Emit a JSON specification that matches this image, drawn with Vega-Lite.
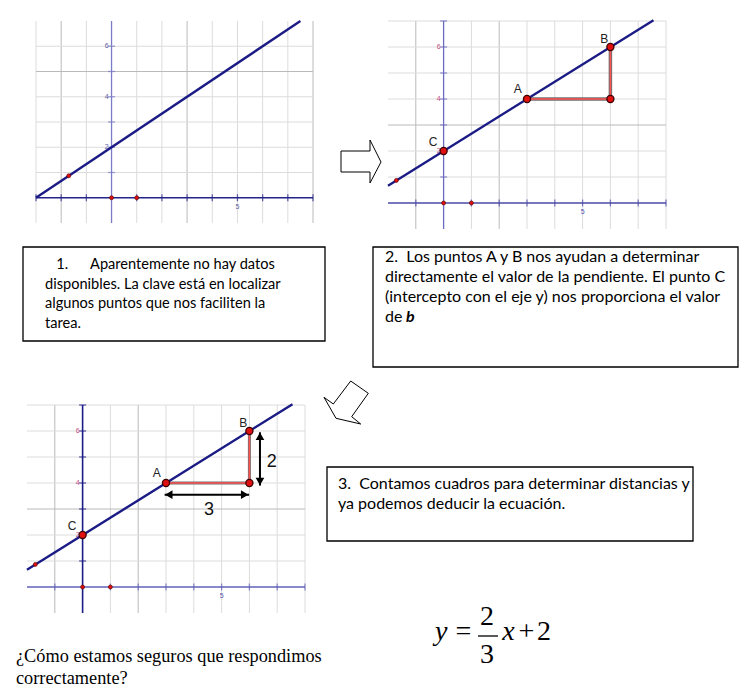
{
"$schema": "https://vega.github.io/schema/vega-lite/v6.json",
"width": 755, "height": 694, "autosize": {"type": "none"}, "padding": 0,
"background": "white",
"config": {"view": {"stroke": null}, "axis": {"disable": true}, "legend": {"disable": true}},
"data": {"values": [{}]},
"datasets": {
 "g1v": [{"v":-3,"kind":"minor"},{"v":-2,"kind":"major"},{"v":-1,"kind":"minor"},{"v":1,"kind":"minor"},{"v":2,"kind":"minor"},{"v":3,"kind":"major"},{"v":4,"kind":"minor"},{"v":5,"kind":"minor"},{"v":6,"kind":"minor"},{"v":7,"kind":"minor"},{"v":8,"kind":"major"}],
 "g1h": [{"v":1,"kind":"minor"},{"v":2,"kind":"minor"},{"v":3,"kind":"minor"},{"v":4,"kind":"minor"},{"v":5,"kind":"major"},{"v":6,"kind":"minor"}],
 "g23v": [{"v":-1,"kind":"major"},{"v":1,"kind":"minor"},{"v":2,"kind":"major"},{"v":3,"kind":"minor"},{"v":4,"kind":"minor"},{"v":5,"kind":"minor"},{"v":6,"kind":"minor"},{"v":7,"kind":"minor"},{"v":8,"kind":"minor"}],
 "g23h": [{"v":1,"kind":"minor"},{"v":2,"kind":"minor"},{"v":3,"kind":"major"},{"v":4,"kind":"minor"},{"v":5,"kind":"minor"},{"v":6,"kind":"minor"},{"v":7,"kind":"minor"}],
 "ylab": [{"v":2,"t":"2"},{"v":4,"t":"4"},{"v":6,"t":"6"}],
 "xlab": [{"v":5,"t":"5"}],
 "line1": [{"x":-3,"y":0},{"x":7.5,"y":7}],
 "line23": [{"x":-2,"y":0.667},{"x":7.55,"y":7.03}],
 "small": [{"x":-1.7,"y":0.87},{"x":0,"y":0},{"x":1,"y":0}],
 "big": [{"x":3,"y":4,"p":"A"},{"x":6,"y":6,"p":"B"},{"x":0,"y":2,"p":"C"},{"x":6,"y":4,"p":"D"}],
 "labels": [{"x":2.67,"y":4.38,"t":"A"},{"x":5.78,"y":6.32,"t":"B"},{"x":-0.38,"y":2.35,"t":"C"}],
 "tri": [{"i":0,"x":3,"y":4},{"i":1,"x":6,"y":4},{"i":2,"x":6,"y":6}],
 "shafts": [{"x":6.38,"y":3.9,"x2":6.38,"y2":5.95},{"x":2.95,"y":3.55,"x2":5.99,"y2":3.55}],
 "heads": [{"x":6.38,"y":5.8,"dir":"up"},{"x":6.38,"y":4.06,"dir":"down"},{"x":3.1,"y":3.55,"dir":"left"},{"x":5.83,"y":3.55,"dir":"right"}],
 "measure": [{"x":6.8,"y":4.82,"t":"2"},{"x":4.55,"y":2.97,"t":"3"}],
 "box1": [{"line":1,"t":"\u200b\u00a0\u00a0\u00a01.\u00a0\u00a0\u00a0\u00a0\u00a0\u00a0Aparentemente no hay datos"},{"line":2,"t":"disponibles. La clave está en localizar"},{"line":3,"t":"algunos puntos que nos faciliten la"},{"line":4,"t":"tarea."}],
 "box2": [{"line":1,"t":"2.\u00a0 Los puntos A y B nos ayudan a determinar"},{"line":2,"t":"directamente el valor de la pendiente. El punto C"},{"line":3,"t":"(intercepto con el eje y) nos proporciona el valor"},{"line":4,"t":"de"}],
 "box3": [{"line":1,"t":"3.\u00a0 Contamos cuadros para determinar distancias y"},{"line":2,"t":"ya podemos deducir la ecuación."}],
 "arrow1": [{"i":0,"x":0,"y":11},{"i":1,"x":29,"y":11},{"i":2,"x":29,"y":0},{"i":3,"x":40,"y":22},{"i":4,"x":29,"y":43},{"i":5,"x":29,"y":32},{"i":6,"x":0,"y":32},{"i":7,"x":0,"y":11}],
 "arrow2": [{"i":0,"x":30.7,"y":3},{"i":1,"x":48.3,"y":15.3},{"i":2,"x":31.7,"y":38.7},{"i":3,"x":40.7,"y":46},{"i":4,"x":16,"y":40.3},{"i":5,"x":4,"y":19.3},{"i":6,"x":13.3,"y":26},{"i":7,"x":30.7,"y":3}],
 "question": [{"line":1,"t":"¿Cómo estamos seguros que respondimos"},{"line":2,"t":"correctamente?"}]
},
"resolve": {"scale": {"x": "independent", "y": "independent"}},
"layer": [
 {"layer": [
  {"data":{"name":"g1v"},"mark":{"type":"rule","strokeWidth":1},
   "encoding":{"x":{"field":"v","type":"quantitative","scale":{"domain":[-3,8],"range":[36,313],"nice":false,"zero":false}},
    "y":{"datum":-1,"type":"quantitative","scale":{"domain":[-1,7],"range":[223,21],"nice":false,"zero":false}},"y2":{"datum":7},
    "stroke":{"condition":{"test":"datum.kind==='major'","value":"#bababa"},"value":"#dcdcdc"}}},
  {"data":{"name":"g1h"},"mark":{"type":"rule","strokeWidth":1},
   "encoding":{"y":{"field":"v","type":"quantitative"},"x":{"datum":-3,"type":"quantitative"},"x2":{"datum":8},
    "stroke":{"condition":{"test":"datum.kind==='major'","value":"#bababa"},"value":"#dcdcdc"}}},
  {"mark":{"type":"rule","color":"#23238a","strokeWidth":1.6},"encoding":{"y":{"datum":0,"type":"quantitative"},"x":{"datum":-3,"type":"quantitative"},"x2":{"datum":8}}},
  {"mark":{"type":"rule","color":"#7b7bc8","strokeWidth":1.3},"encoding":{"x":{"datum":0,"type":"quantitative"},"y":{"datum":-1,"type":"quantitative"},"y2":{"datum":7}}},
  {"data":{"name":"g1v"},"mark":{"type":"tick","orient":"vertical","size":7,"thickness":1.3,"color":"#23238a"},"encoding":{"x":{"field":"v","type":"quantitative"},"y":{"datum":0,"type":"quantitative"}}},
  {"data":{"name":"g1h"},"mark":{"type":"tick","orient":"horizontal","size":7,"thickness":1.3,"color":"#7b7bc8"},"encoding":{"y":{"field":"v","type":"quantitative"},"x":{"datum":0,"type":"quantitative"}}},
  {"data":{"name":"ylab"},"mark":{"type":"text","align":"right","baseline":"middle","fontSize":7,"font":"Liberation Sans","color":"#6060a0","dx":-3},"encoding":{"x":{"datum":0,"type":"quantitative"},"y":{"field":"v","type":"quantitative"},"text":{"field":"t"}}},
  {"data":{"name":"xlab"},"mark":{"type":"text","align":"center","baseline":"top","fontSize":7,"font":"Liberation Sans","color":"#6060a0","dy":5},"encoding":{"x":{"field":"v","type":"quantitative"},"y":{"datum":0,"type":"quantitative"},"text":{"field":"t"}}},
  {"data":{"name":"line1"},"mark":{"type":"line","color":"#1b1b85","strokeWidth":2.4},"encoding":{"x":{"field":"x","type":"quantitative"},"y":{"field":"y","type":"quantitative"}}},
  {"data":{"name":"small"},"mark":{"type":"point","filled":true,"size":16,"fill":"#e01010","stroke":"#500000","strokeWidth":0.6,"opacity":1},"encoding":{"x":{"field":"x","type":"quantitative"},"y":{"field":"y","type":"quantitative"}}}
 ]},
 {"layer": [
  {"data":{"name":"g23v"},"mark":{"type":"rule","strokeWidth":1},
   "encoding":{"x":{"field":"v","type":"quantitative","scale":{"domain":[-2,8],"range":[388,666],"nice":false,"zero":false}},
    "y":{"datum":-1,"type":"quantitative","scale":{"domain":[-1,7],"range":[229,21],"nice":false,"zero":false}},"y2":{"datum":7},
    "stroke":{"condition":{"test":"datum.kind==='major'","value":"#bababa"},"value":"#dcdcdc"}}},
  {"data":{"name":"g23h"},"mark":{"type":"rule","strokeWidth":1},
   "encoding":{"y":{"field":"v","type":"quantitative"},"x":{"datum":-2,"type":"quantitative"},"x2":{"datum":8},
    "stroke":{"condition":{"test":"datum.kind==='major'","value":"#bababa"},"value":"#dcdcdc"}}},
  {"mark":{"type":"rule","color":"#4a4aa8","strokeWidth":1.5},"encoding":{"y":{"datum":0,"type":"quantitative"},"x":{"datum":-2,"type":"quantitative"},"x2":{"datum":8}}},
  {"mark":{"type":"rule","color":"#6b6bc0","strokeWidth":1.3},"encoding":{"x":{"datum":0,"type":"quantitative"},"y":{"datum":-1,"type":"quantitative"},"y2":{"datum":7}}},
  {"data":{"name":"g23v"},"mark":{"type":"tick","orient":"vertical","size":7,"thickness":1.3,"color":"#4a4aa8"},"encoding":{"x":{"field":"v","type":"quantitative"},"y":{"datum":0,"type":"quantitative"}}},
  {"data":{"name":"g23h"},"mark":{"type":"tick","orient":"horizontal","size":7,"thickness":1.3,"color":"#6b6bc0"},"encoding":{"y":{"field":"v","type":"quantitative"},"x":{"datum":0,"type":"quantitative"}}},
  {"data":{"name":"ylab"},"mark":{"type":"text","align":"right","baseline":"middle","fontSize":7,"font":"Liberation Sans","color":"#c05080","dx":-3},"encoding":{"x":{"datum":0,"type":"quantitative"},"y":{"field":"v","type":"quantitative"},"text":{"field":"t"}}},
  {"data":{"name":"xlab"},"mark":{"type":"text","align":"center","baseline":"top","fontSize":7,"font":"Liberation Sans","color":"#5050b0","dy":5},"encoding":{"x":{"field":"v","type":"quantitative"},"y":{"datum":0,"type":"quantitative"},"text":{"field":"t"}}},
  {"data":{"name":"tri"},"mark":{"type":"line","color":"#707070","strokeWidth":3.5},"encoding":{"x":{"field":"x","type":"quantitative"},"y":{"field":"y","type":"quantitative"},"order":{"field":"i"}}},
  {"data":{"name":"tri"},"mark":{"type":"line","color":"#ff5050","strokeWidth":1.5},"encoding":{"x":{"field":"x","type":"quantitative"},"y":{"field":"y","type":"quantitative"},"order":{"field":"i"}}},
  {"data":{"name":"line23"},"mark":{"type":"line","color":"#1b1b85","strokeWidth":2.4},"encoding":{"x":{"field":"x","type":"quantitative"},"y":{"field":"y","type":"quantitative"}}},
  {"data":{"name":"small"},"mark":{"type":"point","filled":true,"size":16,"fill":"#e01010","stroke":"#500000","strokeWidth":0.6,"opacity":1},"encoding":{"x":{"field":"x","type":"quantitative"},"y":{"field":"y","type":"quantitative"}}},
  {"data":{"name":"big"},"mark":{"type":"point","filled":true,"size":50,"fill":"#e01010","stroke":"#3a0000","strokeWidth":1.3,"opacity":1},"encoding":{"x":{"field":"x","type":"quantitative"},"y":{"field":"y","type":"quantitative"}}},
  {"data":{"name":"labels"},"mark":{"type":"text","align":"center","baseline":"middle","fontSize":12,"font":"Liberation Sans","color":"#222222"},"encoding":{"x":{"field":"x","type":"quantitative"},"y":{"field":"y","type":"quantitative"},"text":{"field":"t"}}}
 ]},
 {"layer": [
  {"data":{"name":"g23v"},"mark":{"type":"rule","strokeWidth":1},
   "encoding":{"x":{"field":"v","type":"quantitative","scale":{"domain":[-2,8],"range":[27,305],"nice":false,"zero":false}},
    "y":{"datum":-1,"type":"quantitative","scale":{"domain":[-1,7],"range":[613,405],"nice":false,"zero":false}},"y2":{"datum":7},
    "stroke":{"condition":{"test":"datum.kind==='major'","value":"#bababa"},"value":"#dcdcdc"}}},
  {"data":{"name":"g23h"},"mark":{"type":"rule","strokeWidth":1},
   "encoding":{"y":{"field":"v","type":"quantitative"},"x":{"datum":-2,"type":"quantitative"},"x2":{"datum":8},
    "stroke":{"condition":{"test":"datum.kind==='major'","value":"#bababa"},"value":"#dcdcdc"}}},
  {"mark":{"type":"rule","color":"#6060b8","strokeWidth":1.5},"encoding":{"y":{"datum":0,"type":"quantitative"},"x":{"datum":-2,"type":"quantitative"},"x2":{"datum":8}}},
  {"mark":{"type":"rule","color":"#1b1b8a","strokeWidth":1.6},"encoding":{"x":{"datum":0,"type":"quantitative"},"y":{"datum":-1,"type":"quantitative"},"y2":{"datum":7}}},
  {"data":{"name":"g23v"},"mark":{"type":"tick","orient":"vertical","size":7,"thickness":1.3,"color":"#6060b8"},"encoding":{"x":{"field":"v","type":"quantitative"},"y":{"datum":0,"type":"quantitative"}}},
  {"data":{"name":"g23h"},"mark":{"type":"tick","orient":"horizontal","size":7,"thickness":1.3,"color":"#1b1b8a"},"encoding":{"y":{"field":"v","type":"quantitative"},"x":{"datum":0,"type":"quantitative"}}},
  {"data":{"name":"ylab"},"mark":{"type":"text","align":"right","baseline":"middle","fontSize":7,"font":"Liberation Sans","color":"#c05080","dx":-3},"encoding":{"x":{"datum":0,"type":"quantitative"},"y":{"field":"v","type":"quantitative"},"text":{"field":"t"}}},
  {"data":{"name":"xlab"},"mark":{"type":"text","align":"center","baseline":"top","fontSize":7,"font":"Liberation Sans","color":"#5050b0","dy":5},"encoding":{"x":{"field":"v","type":"quantitative"},"y":{"datum":0,"type":"quantitative"},"text":{"field":"t"}}},
  {"data":{"name":"tri"},"mark":{"type":"line","color":"#707070","strokeWidth":3},"encoding":{"x":{"field":"x","type":"quantitative"},"y":{"field":"y","type":"quantitative"},"order":{"field":"i"}}},
  {"data":{"name":"tri"},"mark":{"type":"line","color":"#ff5050","strokeWidth":1.5},"encoding":{"x":{"field":"x","type":"quantitative"},"y":{"field":"y","type":"quantitative"},"order":{"field":"i"}}},
  {"data":{"name":"line23"},"mark":{"type":"line","color":"#1b1b85","strokeWidth":2.4},"encoding":{"x":{"field":"x","type":"quantitative"},"y":{"field":"y","type":"quantitative"}}},
  {"data":{"name":"small"},"mark":{"type":"point","filled":true,"size":16,"fill":"#e01010","stroke":"#500000","strokeWidth":0.6,"opacity":1},"encoding":{"x":{"field":"x","type":"quantitative"},"y":{"field":"y","type":"quantitative"}}},
  {"data":{"name":"big"},"mark":{"type":"point","filled":true,"size":50,"fill":"#e01010","stroke":"#3a0000","strokeWidth":1.3,"opacity":1},"encoding":{"x":{"field":"x","type":"quantitative"},"y":{"field":"y","type":"quantitative"}}},
  {"data":{"name":"labels"},"mark":{"type":"text","align":"center","baseline":"middle","fontSize":12,"font":"Liberation Sans","color":"#222222"},"encoding":{"x":{"field":"x","type":"quantitative"},"y":{"field":"y","type":"quantitative"},"text":{"field":"t"}}},
  {"data":{"name":"shafts"},"mark":{"type":"rule","color":"black","strokeWidth":2},"encoding":{"x":{"field":"x","type":"quantitative"},"y":{"field":"y","type":"quantitative"},"x2":{"field":"x2"},"y2":{"field":"y2"}}},
  {"data":{"name":"heads"},"mark":{"type":"point","filled":true,"size":75,"color":"black","opacity":1},"encoding":{"x":{"field":"x","type":"quantitative"},"y":{"field":"y","type":"quantitative"},"shape":{"field":"dir","type":"nominal","scale":{"domain":["up","down","left","right"],"range":["triangle-up","triangle-down","triangle-left","triangle-right"]},"legend":null}}},
  {"data":{"name":"measure"},"mark":{"type":"text","align":"center","baseline":"middle","fontSize":18,"font":"Liberation Sans","color":"#111111"},"encoding":{"x":{"field":"x","type":"quantitative"},"y":{"field":"y","type":"quantitative"},"text":{"field":"t"}}}
 ]},
 {"layer": [
  {"mark":{"type":"rect","filled":false,"stroke":"black","strokeWidth":1.3},
   "encoding":{"x":{"datum":0,"type":"quantitative","scale":{"domain":[0,1],"range":[23,325],"nice":false,"zero":false}},"x2":{"datum":1},
    "y":{"datum":0.086,"type":"quantitative","scale":{"domain":[0.086,4.86],"range":[247,341],"nice":false,"zero":false}},"y2":{"datum":4.86}}},
  {"data":{"name":"box1"},"mark":{"type":"text","align":"left","baseline":"middle","font":"Lato","fontSize":14.6,"color":"black"},
   "encoding":{"x":{"datum":0.0728,"type":"quantitative"},"y":{"field":"line","type":"quantitative"},"text":{"field":"t"}}}
 ]},
 {"layer": [
  {"mark":{"type":"rect","filled":false,"stroke":"black","strokeWidth":1.3},
   "encoding":{"x":{"datum":0,"type":"quantitative","scale":{"domain":[0,1],"range":[373,738],"nice":false,"zero":false}},"x2":{"datum":1},
    "y":{"datum":0.5,"type":"quantitative","scale":{"domain":[0.5,6.5],"range":[247,367],"nice":false,"zero":false}},"y2":{"datum":6.5}}},
  {"data":{"name":"box2"},"mark":{"type":"text","align":"left","baseline":"middle","font":"Lato","fontSize":16,"color":"black"},
   "encoding":{"x":{"datum":0.0329,"type":"quantitative"},"y":{"field":"line","type":"quantitative"},"text":{"field":"t"}}},
  {"mark":{"type":"text","text":"b","align":"left","baseline":"middle","font":"Lato","fontSize":16,"fontWeight":"bold","fontStyle":"italic","color":"black"},
   "encoding":{"x":{"datum":0.0904,"type":"quantitative"},"y":{"datum":4,"type":"quantitative"}}}
 ]},
 {"layer": [
  {"mark":{"type":"rect","filled":false,"stroke":"black","strokeWidth":1.3},
   "encoding":{"x":{"datum":0,"type":"quantitative","scale":{"domain":[0,1],"range":[327,693],"nice":false,"zero":false}},"x2":{"datum":1},
    "y":{"datum":0.15,"type":"quantitative","scale":{"domain":[0.15,3.85],"range":[467,541],"nice":false,"zero":false}},"y2":{"datum":3.85}}},
  {"data":{"name":"box3"},"mark":{"type":"text","align":"left","baseline":"middle","font":"Lato","fontSize":16,"color":"black"},
   "encoding":{"x":{"datum":0.03,"type":"quantitative"},"y":{"field":"line","type":"quantitative"},"text":{"field":"t"}}}
 ]},
 {"data":{"name":"arrow1"},"mark":{"type":"line","color":"black","strokeWidth":1},
  "encoding":{"x":{"field":"x","type":"quantitative","scale":{"domain":[0,40],"range":[341,381],"nice":false,"zero":false}},
   "y":{"field":"y","type":"quantitative","scale":{"domain":[0,43],"range":[140,183],"nice":false,"zero":false}},"order":{"field":"i"}}},
 {"data":{"name":"arrow2"},"mark":{"type":"line","color":"black","strokeWidth":1},
  "encoding":{"x":{"field":"x","type":"quantitative","scale":{"domain":[0,50],"range":[320,370],"nice":false,"zero":false}},
   "y":{"field":"y","type":"quantitative","scale":{"domain":[0,50],"range":[378,428],"nice":false,"zero":false}},"order":{"field":"i"}}},
 {"data":{"name":"question"},"mark":{"type":"text","align":"left","baseline":"alphabetic","font":"Liberation Serif","fontSize":18.3,"color":"black"},
  "encoding":{"x":{"datum":0,"type":"quantitative","scale":{"domain":[0,1],"range":[16,320],"nice":false,"zero":false}},
   "y":{"field":"line","type":"quantitative","scale":{"domain":[0,3],"range":[640,706],"nice":false,"zero":false}},"text":{"field":"t"}}},
 {"layer": [
  {"mark":{"type":"text","text":"y","align":"left","baseline":"alphabetic","font":"Liberation Serif","fontSize":28,"fontStyle":"italic","color":"black"},
   "encoding":{"x":{"datum":5,"type":"quantitative","scale":{"domain":[0,130],"range":[430,560],"nice":false,"zero":false}},
    "y":{"datum":50,"type":"quantitative","scale":{"domain":[0,100],"range":[590,690],"nice":false,"zero":false}}}},
  {"mark":{"type":"text","text":"=","align":"center","baseline":"alphabetic","font":"Liberation Serif","fontSize":28,"color":"black"},
   "encoding":{"x":{"datum":33.5,"type":"quantitative"},"y":{"datum":50,"type":"quantitative"}}},
  {"mark":{"type":"text","text":"2","align":"center","baseline":"alphabetic","font":"Liberation Serif","fontSize":28,"color":"black"},
   "encoding":{"x":{"datum":57,"type":"quantitative"},"y":{"datum":35,"type":"quantitative"}}},
  {"mark":{"type":"rule","color":"black","strokeWidth":1.3},
   "encoding":{"x":{"datum":48,"type":"quantitative"},"x2":{"datum":68},"y":{"datum":46,"type":"quantitative"}}},
  {"mark":{"type":"text","text":"3","align":"center","baseline":"alphabetic","font":"Liberation Serif","fontSize":28,"color":"black"},
   "encoding":{"x":{"datum":57,"type":"quantitative"},"y":{"datum":73,"type":"quantitative"}}},
  {"mark":{"type":"text","text":"x","align":"center","baseline":"alphabetic","font":"Liberation Serif","fontSize":28,"fontStyle":"italic","color":"black"},
   "encoding":{"x":{"datum":78.5,"type":"quantitative"},"y":{"datum":50,"type":"quantitative"}}},
  {"mark":{"type":"text","text":"+","align":"center","baseline":"alphabetic","font":"Liberation Serif","fontSize":28,"color":"black"},
   "encoding":{"x":{"datum":96.5,"type":"quantitative"},"y":{"datum":50,"type":"quantitative"}}},
  {"mark":{"type":"text","text":"2","align":"center","baseline":"alphabetic","font":"Liberation Serif","fontSize":28,"color":"black"},
   "encoding":{"x":{"datum":114,"type":"quantitative"},"y":{"datum":50,"type":"quantitative"}}}
 ]}
]
}
